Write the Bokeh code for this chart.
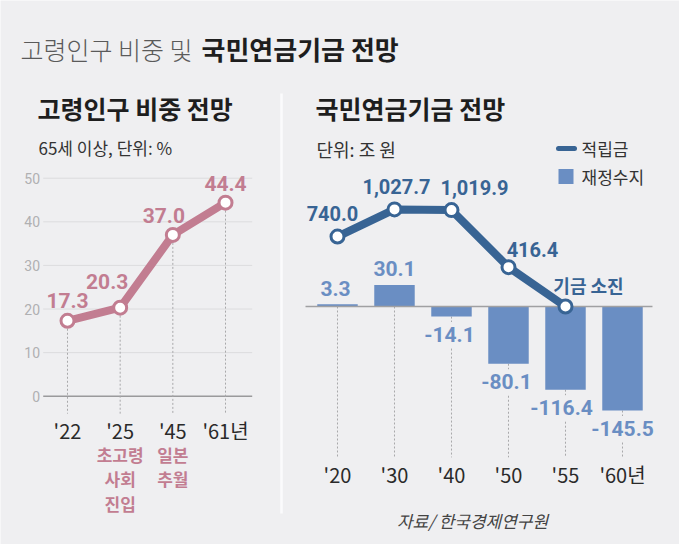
from bokeh.plotting import figure
from bokeh.models import Range1d
from bokeh.core.properties import value
from bokeh.embed import file_html
from bokeh.resources import INLINE

# ---------------- data ----------------
age_years = ["'22", "'25", "'45", "'61년"]
age_share = [17.3, 20.3, 37.0, 44.4]
age_share_labels = ["17.3", "20.3", "37.0", "44.4"]
age_notes = ["", "초고령\n사회\n진입", "일본\n추월", ""]
age_ticks = [0, 10, 20, 30, 40, 50]

fund_years = ["'20", "'30", "'40", "'50", "'55", "'60년"]
fund_reserve = [740.0, 1027.7, 1019.9, 416.4, 0.0]
fund_reserve_labels = ["740.0", "1,027.7", "1,019.9", "416.4", "기금 소진"]
fund_balance = [3.3, 30.1, -14.1, -80.1, -116.4, -145.5]
fund_balance_labels = ["3.3", "30.1", "-14.1", "-80.1", "-116.4", "-145.5"]

# ---------------- style ----------------
BG = "#efeff1"
PINK = "#c27d91"
LBLUE = "#6a8ec3"
DBLUE = "#386494"
FONT = "'Noto Sans CJK KR', 'Noto Sans', sans-serif"
NUM = "Roboto, 'Noto Sans CJK KR', sans-serif"
LIGHT = "'Noto Sans CJK KR Light', 'Noto Sans CJK KR', sans-serif"

W, H = 679, 544
p = figure(width=W, height=H, output_backend="svg", toolbar_location=None,
           x_range=Range1d(0, W), y_range=Range1d(H, 0),
           min_border=0, min_border_left=0, min_border_right=0,
           min_border_top=0, min_border_bottom=0)
p.axis.visible = False
p.grid.visible = False
p.outline_line_color = None
p.background_fill_color = BG
p.border_fill_color = BG

# left panel scales (index on x, percent on y)
p.extra_x_ranges["lx"] = Range1d(-1.272, -1.272 + W / 52.67)
p.extra_y_ranges["ly"] = Range1d(-34.01, 90.76)
# right panel scales
p.extra_x_ranges["rx"] = Range1d(-5.912, 6.0)
p.extra_y_ranges["rb"] = Range1d(-332.9, 428.0)
p.extra_y_ranges["rl"] = Range1d(-2518.5, 3238.1)

# ---------------- header ----------------
p.text(x=[20], y=[48], text=["고령인구 비중 및"], text_font=value(LIGHT),
       text_font_size="25px", text_color="#5a5a5a", text_baseline="middle")
p.text(x=[201], y=[48], text=["국민연금기금 전망"], text_font=value(FONT),
       text_font_size="26px", text_font_style="bold", text_color="#1e1e1e",
       text_baseline="middle")

# separator
p.segment(x0=[281], y0=[93], x1=[281], y1=[513], line_color="#fbfbfc", line_width=2.5)

# ---------------- left panel ----------------
p.text(x=[37], y=[107], text=["고령인구 비중 전망"], text_font=value(FONT),
       text_font_size="25px", text_font_style="bold", text_color="#1e1e1e",
       text_baseline="middle")
p.text(x=[38], y=[147], text=["65세 이상, 단위: %"], text_font=value(FONT),
       text_font_size="17px", text_color="#333333", text_baseline="middle")

n_age = len(age_years)
idx_a = list(range(n_age))
grid_ticks = [t for t in age_ticks if t != 0]
p.segment(x0=[-0.461] * len(grid_ticks), y0=grid_ticks, x1=[3.507] * len(grid_ticks),
          y1=grid_ticks, x_range_name="lx", y_range_name="ly",
          line_color="#dcdcde", line_width=1)
p.segment(x0=[-0.461], y0=[0], x1=[3.507], y1=[0], x_range_name="lx", y_range_name="ly",
          line_color="#9a9a9c", line_width=1.5)
p.text(x=[-0.52] * len(age_ticks), y=age_ticks, text=[str(t) for t in age_ticks],
       x_range_name="lx", y_range_name="ly", text_align="right", text_baseline="middle",
       text_font=value("Roboto"), text_font_size="14px", text_color="#b0b0b2")
# dashed drop lines
p.segment(x0=idx_a, y0=age_share, x1=idx_a, y1=[-4] * n_age,
          x_range_name="lx", y_range_name="ly",
          line_color="#a8a8aa", line_width=1, line_dash="2 2")
p.line(x=idx_a, y=age_share, x_range_name="lx", y_range_name="ly",
       line_color=PINK, line_width=8, line_join="round", line_cap="round")
p.scatter(x=idx_a, y=age_share, x_range_name="lx", y_range_name="ly",
          size=13, fill_color="white", line_color=PINK, line_width=3)
p.text(x=idx_a, y=age_share, text=age_share_labels, x_range_name="lx", y_range_name="ly",
       x_offset=[0, -13, -9, 0], y_offset=[-20, -26, -19, -19],
       text_align="center", text_baseline="middle", text_font=value(NUM),
       text_font_size="21px", text_font_style="bold", text_color=PINK)
p.text(x=idx_a, y=[0] * n_age, text=age_years, x_range_name="lx", y_range_name="ly",
       y_offset=34, text_align="center", text_baseline="middle",
       text_font=value(FONT), text_font_size="20px", text_color="#2a2a2a")
p.text(x=idx_a, y=[0] * n_age, text=age_notes, x_range_name="lx", y_range_name="ly",
       y_offset=46, text_align="center", text_baseline="top", text_line_height=0.97,
       text_font=value(FONT), text_font_size="17px", text_font_style="bold",
       text_color=PINK)

# ---------------- right panel ----------------
p.text(x=[315], y=[107], text=["국민연금기금 전망"], text_font=value(FONT),
       text_font_size="25px", text_font_style="bold", text_color="#1e1e1e",
       text_baseline="middle")
p.text(x=[316], y=[148], text=["단위: 조 원"], text_font=value(FONT),
       text_font_size="18px", text_color="#333333", text_baseline="middle")

# legend keys
p.segment(x0=[558], y0=[148], x1=[574], y1=[148], line_color=DBLUE, line_width=5,
          line_cap="round")
p.rect(x=[565.5], y=[176], width=15, height=15, fill_color=LBLUE, line_color=None)
p.text(x=[581, 581], y=[148, 176], text=["적립금", "재정수지"], text_font=value(FONT),
       text_font_size="17px", text_color="#333333", text_baseline="middle")

n_f = len(fund_years)
idx_f = list(range(n_f))
p.segment(x0=idx_f, y0=[min(v, 0) for v in fund_balance],
          x1=idx_f, y1=[-211] * n_f, x_range_name="rx", y_range_name="rb",
          line_color="#a8a8aa", line_width=1, line_dash="2 2")
p.vbar(x=idx_f, top=fund_balance, bottom=0, width=0.71, x_range_name="rx",
       y_range_name="rb", fill_color=LBLUE, line_color=None)
p.segment(x0=[-0.561], y0=[0], x1=[5.526], y1=[0], x_range_name="rx", y_range_name="rb",
          line_color="#a0a0a2", line_width=1.5)
p.text(x=idx_f, y=fund_balance, text=fund_balance_labels, x_range_name="rx",
       y_range_name="rb",
       x_offset=[-2, 0, -2, -2, -4, 0],
       y_offset=[-16 if v >= 0 else 18 for v in fund_balance],
       text_align="center", text_baseline="middle", text_font=value(NUM),
       text_font_size="21px", text_font_style="bold", text_color=LBLUE,
       background_fill_color=BG, padding=5)

idx_r = list(range(len(fund_reserve)))
p.line(x=idx_r, y=fund_reserve, x_range_name="rx", y_range_name="rl",
       line_color=DBLUE, line_width=8, line_join="round", line_cap="round")
p.scatter(x=idx_r, y=fund_reserve, x_range_name="rx", y_range_name="rl",
          size=13, fill_color="white", line_color=DBLUE, line_width=3)
p.text(x=idx_r[:4], y=fund_reserve[:4], text=fund_reserve_labels[:4], x_range_name="rx",
       y_range_name="rl",
       x_offset=[-5, 2, 23, 24], y_offset=[-23, -23, -23, -18],
       text_align="center", text_baseline="middle", text_font=value(NUM),
       text_font_size="20px", text_font_style="bold", text_color=DBLUE)
p.text(x=idx_r[4:], y=fund_reserve[4:], text=fund_reserve_labels[4:], x_range_name="rx",
       y_range_name="rl", x_offset=23, y_offset=-22,
       text_align="center", text_baseline="middle", text_font=value(FONT),
       text_font_size="18px", text_font_style="bold", text_color=DBLUE)

p.text(x=idx_f, y=[0] * n_f, text=fund_years, x_range_name="rx", y_range_name="rb",
       y_offset=168, text_align="center", text_baseline="middle",
       text_font=value(FONT), text_font_size="20px", text_color="#2a2a2a")

p.text(x=[472], y=[520], text=["자료/ 한국경제연구원"], text_font=value(FONT),
       text_font_size="17px", text_font_style="italic", text_color="#444444",
       text_align="center", text_baseline="middle")

open("out.html", "w").write(file_html(p, INLINE))
